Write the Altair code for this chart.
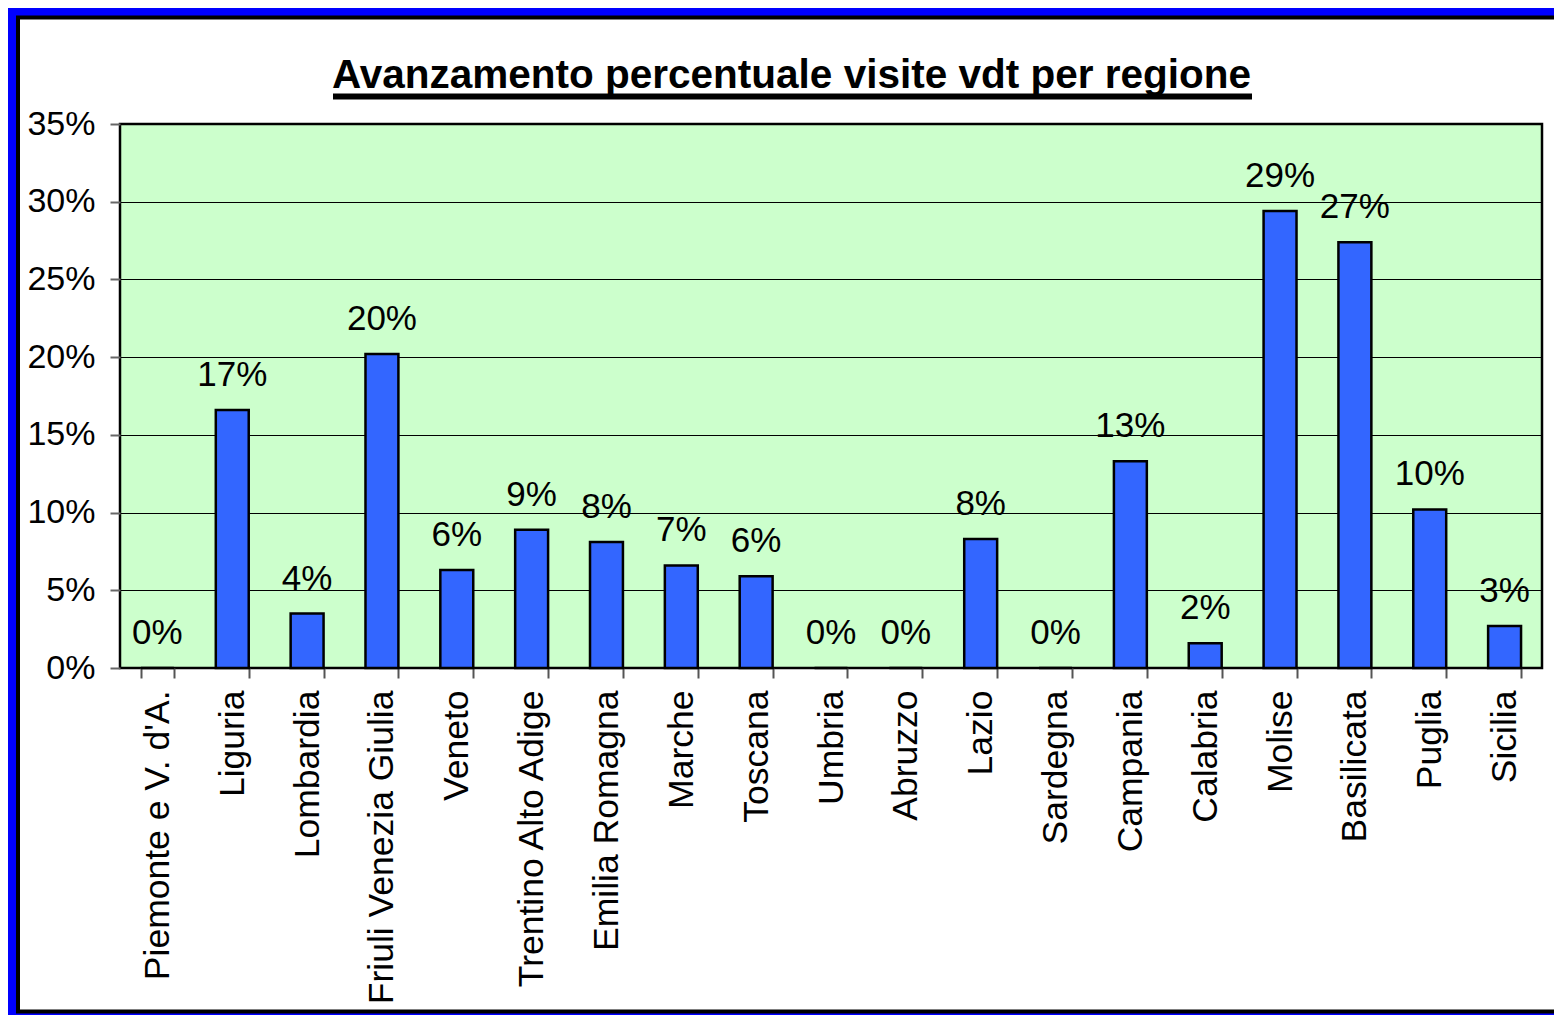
import altair as alt
import pandas as pd

regions = ["Piemonte e V. d'A.", "Liguria", "Lombardia", "Friuli Venezia Giulia", "Veneto",
           "Trentino Alto Adige", "Emilia Romagna", "Marche", "Toscana", "Umbria", "Abruzzo",
           "Lazio", "Sardegna", "Campania", "Calabria", "Molise", "Basilicata", "Puglia", "Sicilia"]
values = [0.0, 0.166, 0.035, 0.202, 0.063, 0.089, 0.081, 0.066, 0.059, 0.0, 0.0,
          0.083, 0.0, 0.133, 0.016, 0.294, 0.274, 0.102, 0.027]
y_ticks = [0, 0.05, 0.10, 0.15, 0.20, 0.25, 0.30, 0.35]
title_text = "Avanzamento percentuale visite vdt per regione"

df = pd.DataFrame({"regione": regions, "valore": values})

FONT = "Liberation Sans"
W, H = 1422, 544

xenc = alt.X("regione:N", sort=regions,
             scale=alt.Scale(paddingInner=0.56, paddingOuter=0.28),
             axis=alt.Axis(title=None, labelAngle=-90, labelFontSize=35.5, labelFont=FONT,
                           labelColor="black", labelLimit=0, tickBand="extent", tickSize=10,
                           tickColor="#555555", tickWidth=2, domain=False,
                           labelPadding=12, grid=False))
yenc = alt.Y("valore:Q", scale=alt.Scale(domain=[0, 0.35], nice=False),
             axis=alt.Axis(title=None, values=y_ticks, format=".0%", labelFontSize=34,
                           labelFont=FONT, labelColor="black", tickSize=10,
                           tickColor="#666666", tickWidth=2, domain=False,
                           labelPadding=15, grid=True, gridColor="black", gridWidth=1,
                           gridOpacity=1))

base = alt.Chart(df)
bars = base.mark_bar(color="#3366FF", stroke="black", strokeWidth=2.5).encode(x=xenc, y=yenc)
labels = base.mark_text(dy=-24, baseline="alphabetic", fontSize=35, font=FONT,
                        color="black").encode(
    x=alt.X("regione:N", sort=regions), y="valore:Q",
    text=alt.Text("valore:Q", format=".0%"))

one = alt.Data(values=[{}])
blue_frame = alt.Chart(one).mark_rect(fillOpacity=0, stroke="#0000FF", strokeWidth=16).encode(
    x=alt.value(-112), x2=alt.value(1450), y=alt.value(-116), y2=alt.value(897))
black_frame = alt.Chart(one).mark_rect(fillOpacity=0, stroke="black", strokeWidth=4).encode(
    x=alt.value(-102), x2=alt.value(1450), y=alt.value(-106.5), y2=alt.value(887.5))
title = alt.Chart(one).mark_text(text=title_text, fontSize=40.5, fontWeight="bold", font=FONT,
                                 align="center", baseline="alphabetic", color="black").encode(
    x=alt.value(671.5), y=alt.value(-36))
underline = alt.Chart(one).mark_rule(color="black", strokeWidth=6).encode(
    x=alt.value(213), x2=alt.value(1132), y=alt.value(-27.5))

chart = alt.layer(bars, labels, blue_frame, black_frame, title, underline).properties(
    width=W, height=H,
    autosize=alt.AutoSizeParams(type="none"),
    padding={"left": 112, "top": 116, "right": 12, "bottom": 347},
    background="white",
).configure_view(fill="#CCFFCC", stroke="black", strokeWidth=2.5)

chart.save("out.html", embed_options={"renderer": "svg", "actions": False})
